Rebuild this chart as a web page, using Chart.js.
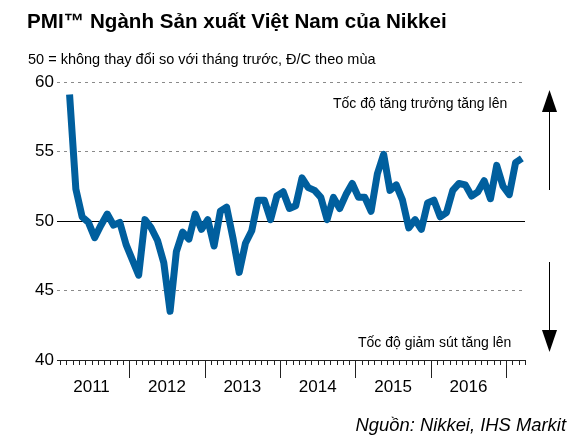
<!DOCTYPE html>
<html>
<head>
<meta charset="utf-8">
<script src="https://cdn.jsdelivr.net/npm/chart.js@4.4.1/dist/chart.umd.min.js"></script>
<style>
  html, body { margin: 0; padding: 0; background: #ffffff; }
  #wrap { position: relative; width: 586px; height: 445px; }
  canvas { display: block; }
</style>
</head>
<body>
<div id="wrap"><canvas id="c" width="586" height="445"></canvas></div>
<script>
// ---- Data ----
const START_YEAR = 2011;
const START_MONTH = 3; // March 2011 is the first observation
const pmiValues = [
  59.1, 52.3, 50.3, 49.9, 48.8, 49.7, 50.5, 49.7, 49.9, 48.3,            // Mar-Dec 2011
  47.2, 46.1, 50.1, 49.5, 48.6, 47.0, 43.5, 47.8, 49.2, 48.7, 50.5, 49.4, // 2012
  50.1, 48.2, 50.7, 51.0, 48.8, 46.3, 48.4, 49.3, 51.5, 51.5, 50.1, 51.8, // 2013
  52.1, 50.9, 51.1, 53.1, 52.4, 52.2, 51.7, 50.1, 51.7, 50.9, 51.9, 52.7, // 2014
  51.7, 51.7, 50.7, 53.4, 54.8, 52.2, 52.6, 51.5, 49.5, 50.1, 49.4, 51.3, // 2015
  51.5, 50.3, 50.6, 52.2, 52.7, 52.6, 51.8, 52.1, 52.9, 51.6, 54.0, 52.5, // 2016
  51.9, 54.2, 54.5                                                        // Jan-Mar 2017
];
const monthLabels = pmiValues.map((v, i) => {
  const m0 = START_MONTH - 1 + i;
  const y = START_YEAR + Math.floor(m0 / 12);
  const m = (m0 % 12) + 1;
  return y + '-' + String(m).padStart(2, '0');
});
const yearLabels = ['2011', '2012', '2013', '2014', '2015', '2016'];
const yTickValues = [40, 45, 50, 55, 60];

const TITLE = 'PMI™ Ngành Sản xuất Việt Nam của Nikkei';
const SUBTITLE = '50 = không thay đổi so với tháng trước, Đ/C theo mùa';
const NOTE_UP = 'Tốc độ tăng trưởng tăng lên';
const NOTE_DOWN = 'Tốc độ giảm sút tăng lên';
const SOURCE = 'Nguồn: Nikkei, IHS Markit';

// month index helpers (index 0 = first observation)
function monthIndex(year, month) { return (year - START_YEAR) * 12 + (month - START_MONTH); }
const yearMidValues = yearLabels.map(y => monthIndex(+y, 7) - 0.5);   // 1 July boundary
const janBoundaries = [2012, 2013, 2014, 2015, 2016, 2017].map(y => monthIndex(y, 1) - 0.5);

const FONT = '"Liberation Sans", Arial, "DejaVu Sans", sans-serif';
const LINE_COLOR = '#005f9e';

const points = pmiValues.map((v, i) => ({ x: i, y: v }));

const decor = {
  id: 'decor',
  afterDraw(chart) {
    const ctx = chart.ctx;
    const xs = chart.scales.x;
    const area = chart.chartArea;
    ctx.save();
    // month ticks on x axis
    ctx.strokeStyle = '#222';
    ctx.lineWidth = 1;
    for (let k = xs.min + 0.5; k <= xs.max + 0.001; k += 1) {
      const px = Math.round(xs.getPixelForValue(k)) + 0.5;
      const major = janBoundaries.some(b => Math.abs(b - k) < 0.01);
      ctx.beginPath();
      ctx.moveTo(px, area.bottom);
      ctx.lineTo(px, area.bottom + (major ? 18 : 5));
      ctx.stroke();
    }
    // texts
    ctx.fillStyle = '#000';
    ctx.textBaseline = 'alphabetic';
    ctx.textAlign = 'left';
    ctx.font = 'bold 20.6px ' + FONT;
    ctx.fillText(TITLE, 27, 28);
    ctx.font = '14.5px ' + FONT;
    ctx.fillText(SUBTITLE, 28, 64);
    ctx.font = '14px ' + FONT;
    ctx.fillText(NOTE_UP, 333, 108);
    ctx.fillText(NOTE_DOWN, 358, 347);
    ctx.font = 'italic 18.4px ' + FONT;
    ctx.textAlign = 'right';
    ctx.fillText(SOURCE, 566, 431);
    // arrows
    const ax = 549.5;
    ctx.strokeStyle = '#000';
    ctx.lineWidth = 1;
    ctx.beginPath(); ctx.moveTo(ax, 110); ctx.lineTo(ax, 190); ctx.stroke();
    ctx.beginPath(); ctx.moveTo(ax, 90); ctx.lineTo(ax - 7.5, 112); ctx.lineTo(ax + 7.5, 112); ctx.closePath(); ctx.fill();
    ctx.beginPath(); ctx.moveTo(ax, 262); ctx.lineTo(ax, 332); ctx.stroke();
    ctx.beginPath(); ctx.moveTo(ax, 352); ctx.lineTo(ax - 7.5, 330); ctx.lineTo(ax + 7.5, 330); ctx.closePath(); ctx.fill();
    ctx.restore();
  }
};

new Chart(document.getElementById('c'), {
  type: 'line',
  data: {
    labels: monthLabels,
    datasets: [{
      label: 'PMI',
      data: points,
      borderColor: LINE_COLOR,
      backgroundColor: LINE_COLOR,
      borderWidth: 7,
      pointRadius: 0,
      tension: 0,
      borderJoinStyle: 'round',
      borderCapStyle: 'butt',
      fill: false
    }]
  },
  options: {
    responsive: false,
    animation: false,
    devicePixelRatio: 1,
    layout: { padding: { left: 0, right: 61, top: 82, bottom: 0 } },
    plugins: { legend: { display: false }, tooltip: { enabled: false }, title: { display: false } },
    scales: {
      x: {
        type: 'linear',
        min: -2,
        max: 72.5,
        afterBuildTicks: s => { s.ticks = yearMidValues.map(v => ({ value: v })); },
        afterFit: s => { s.height = 85; },
        grid: { display: false, drawTicks: false },
        border: { display: true, color: '#222', width: 1 },
        ticks: {
          autoSkip: false, maxRotation: 0, padding: 17, color: '#000',
          font: { size: 17, family: FONT },
          callback: (v, i) => yearLabels[i]
        }
      },
      y: {
        min: 40,
        max: 60,
        afterBuildTicks: s => { s.ticks = yTickValues.map(v => ({ value: v })); },
        afterFit: s => { s.width = 57; },
        grid: {
          drawTicks: false,
          lineWidth: 1,
          color: c => (c.tick && (c.tick.value === 50 || c.tick.value === 40)) ? '#000' : '#8a8a8a'
        },
        border: {
          display: false,
          dash: c => (c.tick && (c.tick.value === 50 || c.tick.value === 40)) ? [] : [3, 4]
        },
        ticks: {
          padding: 3, color: '#000',
          font: { size: 17, family: FONT },
          callback: v => String(v)
        }
      }
    }
  },
  plugins: [decor]
});
</script>
</body>
</html>
